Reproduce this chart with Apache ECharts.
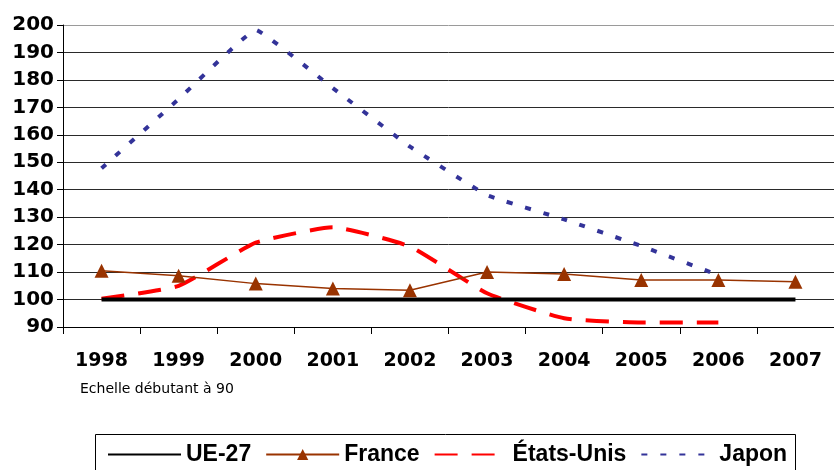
<!DOCTYPE html>
<html>
<head>
<meta charset="utf-8">
<script src="https://cdn.jsdelivr.net/npm/echarts@6/dist/echarts.min.js"></script>
<style>
html,body{margin:0;padding:0;background:#fff;}
#chart{width:834px;height:470px;}
</style>
</head>
<body>
<div id="chart"></div>
<script>
var years = ['1998','1999','2000','2001','2002','2003','2004','2005','2006','2007'];
var ue27 = [100,100,100,100,100,100,100,100,100,100];
var france = [110.5,108.7,105.8,104.0,103.4,110.0,109.3,107.1,107.1,106.5];
var etatsUnis = [100.3,105.0,120.7,126.3,119.3,102.3,93.2,91.6,91.6,null];
var japon = [147.8,173.0,198.2,177.0,155.7,138.0,129.2,119.5,108.9,null];
var yTicks = {min:90, max:200, interval:10};
var note = 'Echelle débutant à 90';

var chart = echarts.init(document.getElementById('chart'));
var splitColors = [];
for (var v = yTicks.min; v <= yTicks.max; v += yTicks.interval) {
  splitColors.push(v === yTicks.max ? '#9a9a9a' : '#2a2a2a');
}
var hideSym = {opacity:0, borderWidth:0};
chart.setOption({
  animation:false,
  backgroundColor:'#fff',
  grid:{left:63, top:25, width:777.5, height:302, containLabel:false},
  xAxis:{
    type:'category', data:years, boundaryGap:true,
    axisLine:{lineStyle:{color:'#000', width:1}},
    axisTick:{show:true, interval:0, length:7, lineStyle:{color:'#000'}},
    axisLabel:{interval:0, margin:25, color:'#000', fontFamily:'DejaVu Sans', fontWeight:'bold', fontSize:19},
    splitLine:{show:false}
  },
  yAxis:{
    type:'value', min:yTicks.min, max:yTicks.max, interval:yTicks.interval,
    axisLine:{show:true, lineStyle:{color:'#000', width:1}},
    axisTick:{show:true, length:6, lineStyle:{color:'#000'}},
    axisLabel:{margin:9, color:'#000', fontFamily:'DejaVu Sans', fontWeight:'bold', fontSize:20},
    splitLine:{show:true, lineStyle:{color:splitColors, width:1}}
  },
  legend:{
    left:102, top:438, itemWidth:73, itemHeight:14, itemGap:14,
    textStyle:{color:'#000', fontFamily:'Liberation Sans, Arial', fontWeight:'bold', fontSize:23},
    data:[
      {name:'UE-27', itemStyle:hideSym},
      {name:'France'},
      {name:'États-Unis', itemStyle:hideSym},
      {name:'Japon', itemStyle:hideSym}
    ]
  },
  graphic:[
    {type:'rect', shape:{x:95.5, y:434.5, width:700, height:60}, style:{fill:'none', stroke:'#000', lineWidth:1}, z:-1},
    {type:'text', left:80, top:382, style:{text:note, fill:'#000', font:'14px "DejaVu Sans"'}}
  ],
  series:[
    {name:'UE-27', type:'line', data:ue27, showSymbol:false, symbol:'none',
     lineStyle:{color:'#000', width:4}, itemStyle:{color:'#000'}, z:3},
    {name:'France', type:'line', data:france, symbol:'triangle', symbolSize:14,
     lineStyle:{color:'#993300', width:1.5}, itemStyle:{color:'#993300'}, z:4},
    {name:'États-Unis', type:'line', data:etatsUnis, symbol:'none', smooth:0.15,
     lineStyle:{color:'#ff0000', width:4, type:[23,14]}, itemStyle:{color:'#ff0000'}, z:2},
    {name:'Japon', type:'line', data:japon, symbol:'none', smooth:0.08,
     lineStyle:{color:'#333399', width:4, type:[6,13]}, itemStyle:{color:'#333399'}, z:2}
  ]
});
</script>
</body>
</html>
